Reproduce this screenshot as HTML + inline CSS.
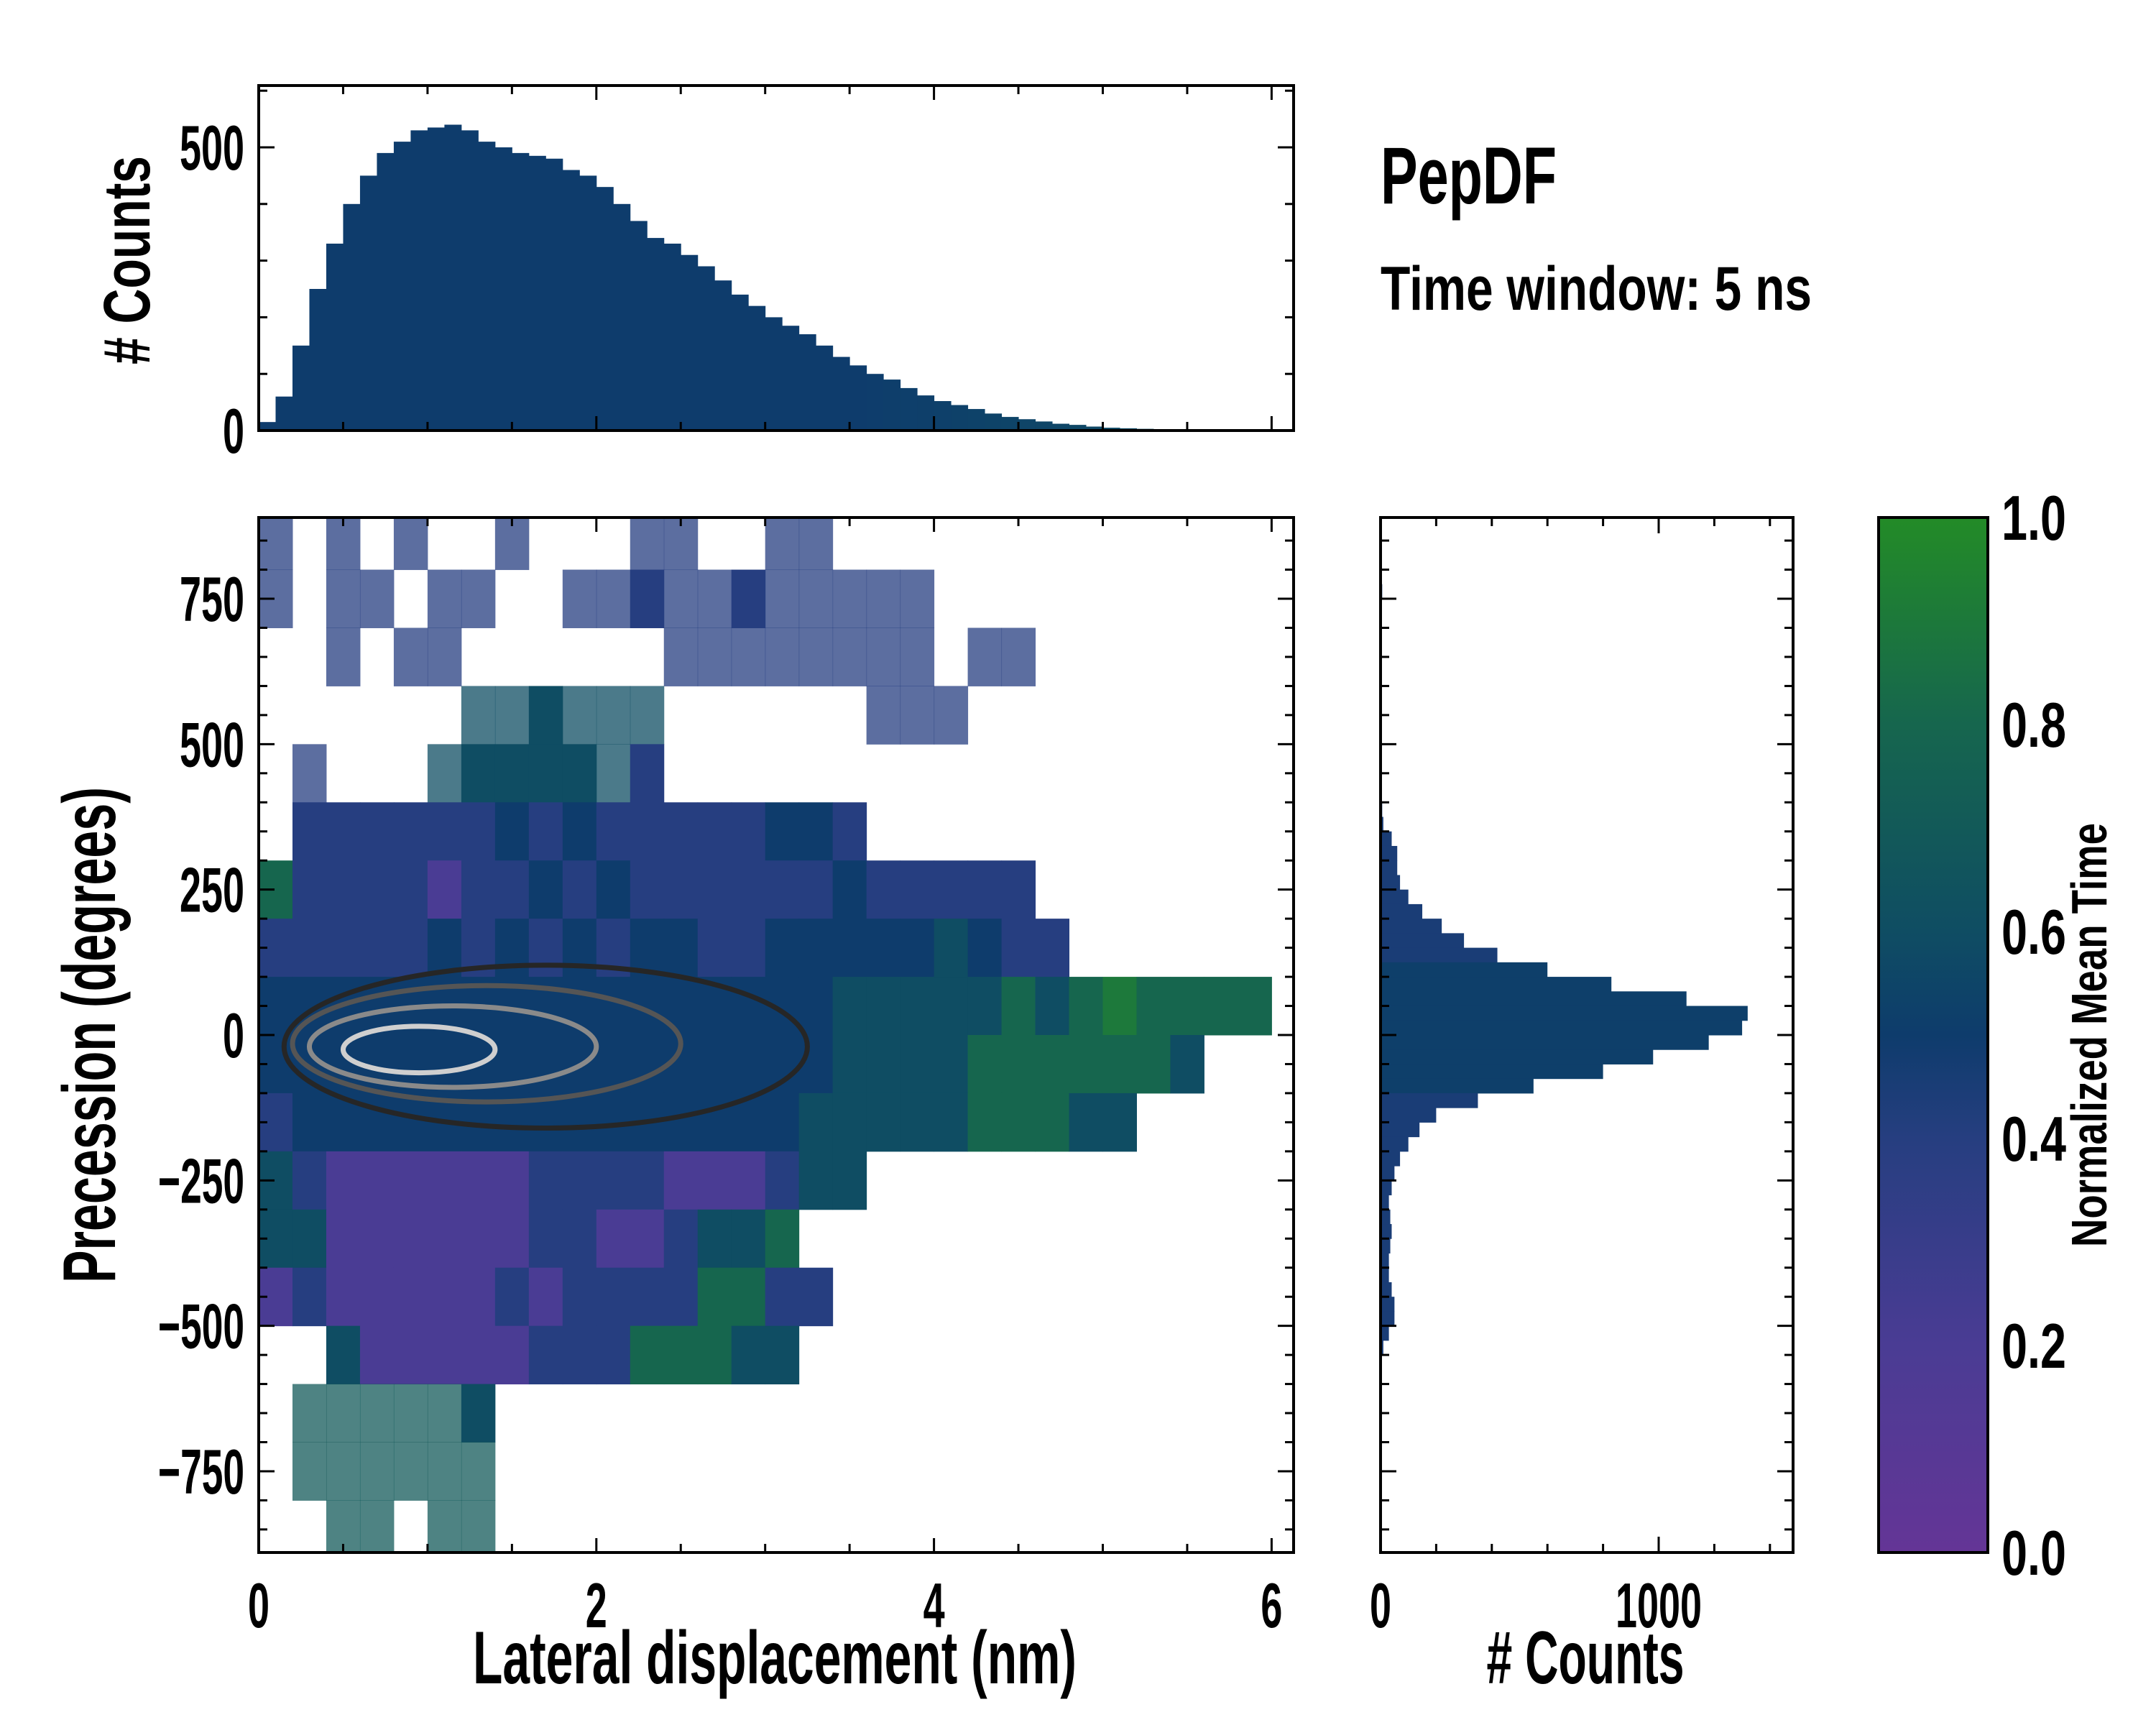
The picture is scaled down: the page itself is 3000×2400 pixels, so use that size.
<!DOCTYPE html>
<html><head><meta charset="utf-8">
<style>
html,body{margin:0;padding:0;background:#fff;}
svg{display:block;font-family:"Liberation Sans Narrow","Liberation Sans",sans-serif;font-weight:bold;}
</style></head>
<body>
<svg id="chart" width="3000" height="2400" viewBox="0 0 3000 2400" xmlns="http://www.w3.org/2000/svg">
<defs>
<linearGradient id="cbg" x1="0" y1="1" x2="0" y2="0">
<stop offset="0" stop-color="#643596"/>
<stop offset="0.2" stop-color="#4a3c94"/>
<stop offset="0.4" stop-color="#263e80"/>
<stop offset="0.5" stop-color="#0e3c6c"/>
<stop offset="0.6" stop-color="#0f4d63"/>
<stop offset="0.8" stop-color="#16664e"/>
<stop offset="1" stop-color="#238b27"/>
</linearGradient>
<clipPath id="mainclip"><rect x="360" y="720" width="1440" height="1440"/></clipPath>
</defs>
<g id="heat" clip-path="url(#mainclip)"></g>
<g id="contours" clip-path="url(#mainclip)"></g>
<g id="tophist"></g>
<g id="righthist"></g>
<g id="axes"></g>
<rect x="2614" y="720" width="152" height="1440" fill="url(#cbg)" stroke="#000" stroke-width="4"/>
<text x="1921" y="283" font-size="112" textLength="245" lengthAdjust="spacingAndGlyphs">PepDF</text>
<text x="1921" y="431" font-size="86" textLength="600" lengthAdjust="spacingAndGlyphs">Time window: 5 ns</text>
<text x="1078" y="2342" font-size="104" text-anchor="middle" textLength="840" lengthAdjust="spacingAndGlyphs">Lateral displacement (nm)</text>
<text transform="translate(124,1440) rotate(-90)" font-size="104" text-anchor="middle" dy="36" textLength="690" lengthAdjust="spacingAndGlyphs">Precession (degrees)</text>
<text transform="translate(176,362) rotate(-90)" font-size="92" text-anchor="middle" dy="32" textLength="290" lengthAdjust="spacingAndGlyphs"># Counts</text>
<text x="2206" y="2342" font-size="104" text-anchor="middle" textLength="275" lengthAdjust="spacingAndGlyphs"># Counts</text>
<text transform="translate(2907,1440) rotate(-90)" font-size="70" text-anchor="middle" dy="24" textLength="590" lengthAdjust="spacingAndGlyphs">Normalized Mean Time</text>
</svg>
<script>
// ---- data ----
const xBinWidth = 0.2;
const yBinStarts = [800,700,600,500,400,300,200,100,0,-100,-200,-300,-400,-500,-600,-700,-800,-900];
const heatRows = [
"a.a.a..a...aa..aa",
"a.aa.aa..aa4aa4aaaaa",
"..a.aa......aaaaaaaa.aa",
"......bb6bbb......aaa",
".a...b6666b4",
".44444454544444554",
"84444244545444444544444",
"444445454545544555556544",
"555555555555555556666686898888",
"5555555555555555566668888886",
"45555555555555556666688866",
"642222224444222466",
"6622222244224668",
"24222224244448844",
"..62222244488866",
".ccccc6",
".cccccc",
"..cc.cc"
];
const sparseMap = {a:4, b:6, c:7};
const histXStarts = [0,0.1,0.2,0.3,0.4,0.5,0.6,0.7,0.8,0.9,1.0,1.1,1.2,1.3,1.4,1.5,1.6,1.7,1.8,1.9,2.0,2.1,2.2,2.3,2.4,2.5,2.6,2.7,2.8,2.9,3.0,3.1,3.2,3.3,3.4,3.5,3.6,3.7,3.8,3.9,4.0,4.1,4.2,4.3,4.4,4.5,4.6,4.7,4.8,4.9,5.0,5.1,5.2,5.3,5.4,5.5,5.6,5.7];
const histXCounts = [15,60,150,250,330,400,450,490,510,530,535,540,530,510,500,490,485,480,460,450,430,400,370,340,330,310,290,265,240,220,200,185,170,150,130,115,100,90,75,62,52,45,38,30,24,20,16,12,10,7,5,4,3,2,2,1,1,0];
const histYStarts = [800,775,750,725,700,675,650,625,600,575,550,525,500,475,450,425,400,375,350,325,300,275,250,225,200,175,150,125,100,75,50,25,0,-25,-50,-75,-100,-125,-150,-175,-200,-225,-250,-275,-300,-325,-350,-375,-400,-425,-450,-475,-500,-525,-550,-575,-600,-625,-650,-675,-700,-725,-750,-775];
const histYCounts = [3,4,6,5,4,3,2,2,2,3,3,2,2,2,3,4,5,6,10,40,60,60,70,100,150,220,300,420,600,830,1100,1320,1300,1180,980,800,550,350,200,140,100,70,50,40,30,35,40,35,30,30,40,50,50,30,10,5,3,2,3,3,5,3,2,1];
const contourCx = [1.7,1.35,1.15,0.95];
const contourCy = [-20,-15,-20,-25];
const contourRx = [1.55,1.15,0.85,0.45];
const contourRy = [140,100,70,40];
const contourColors = ["#262626","#555555","#8a8a8a","#cfcfcf"];
const xTickLabels = [0,2,4,6];
const yTickLabels = [750,500,250,0,-250,-500,-750];
const topHistTicks = [0,500];
const rightHistTicks = [0,1000];
const cbTicks = [0.0,0.2,0.4,0.6,0.8,1.0];

// ---- scales ----
const X0=360,X1=1800,Y0=720,Y1=2160;
const sx = v => 360 + v*234.9;
const sy = v => 1440 - v*0.8093;
const shy = v => 599 - v*0.788;
const shx = v => 1921 + v*0.387;
const scb = v => 2160 - v*1440;
const NS="http://www.w3.org/2000/svg";
function mk(tag, attrs, parent){const e=document.createElementNS(NS,tag);for(const k in attrs)e.setAttribute(k,attrs[k]);parent.appendChild(e);return e;}
const stops=[[0,[100,53,150]],[0.2,[74,60,148]],[0.4,[38,62,128]],[0.5,[14,60,108]],[0.6,[15,77,99]],[0.8,[22,102,78]],[1,[35,139,39]]];
function cmap(t){for(let i=1;i<stops.length;i++){if(t<=stops[i][0]){const a=stops[i-1],b=stops[i];const f=(t-a[0])/(b[0]-a[0]);const c=a[1].map((v,j)=>Math.round(v+(b[1][j]-v)*f));return `rgb(${c[0]},${c[1]},${c[2]})`;}}return "rgb(35,139,39)";}

// heatmap
const heat=document.getElementById('heat');
heatRows.forEach((row,r)=>{
  for(let c=0;c<row.length;c++){
    const ch=row[c]; if(ch==='.') continue;
    const sparse = ch in sparseMap;
    const v=(sparse?sparseMap[ch]:parseInt(ch))/10;
    const x=sx(c*xBinWidth), w=sx((c+1)*xBinWidth)-x;
    const yTop=sy(yBinStarts[r]+100), h=sy(yBinStarts[r])-yTop;
    const e=mk('rect',{x:x,y:yTop,width:w+0.5,height:h+0.5,fill:cmap(v),'fill-opacity':sparse?0.75:1},heat);
    
    
  }
});
// contours
const cg=document.getElementById('contours');
contourCx.forEach((cx,i)=>{
  const e=mk('ellipse',{cx:sx(cx),cy:sy(contourCy[i]),rx:contourRx[i]*234.9,ry:contourRy[i]*0.8093,fill:'none',stroke:contourColors[i],'stroke-width':7},cg);
  
  
});
// top hist
const th=document.getElementById('tophist');
histXStarts.forEach((x0,i)=>{
  const x=sx(x0), w=sx(x0+0.1)-x, yv=shy(histXCounts[i]);
  const e=mk('rect',{x:x,y:yv,width:w+0.5,height:599-yv,fill:cmap(0.5+Math.max(0,x0-3.5)*0.05)},th);
  
  
});
// right hist
const rh=document.getElementById('righthist');
histYStarts.forEach((y0,i)=>{
  const yTop=sy(y0+25), h=sy(y0)-yTop, xv=shx(histYCounts[i]);
  const e=mk('rect',{x:1921,y:yTop,width:xv-1921,height:h+0.5,fill:cmap(Math.abs(y0)<120?0.52:0.45)},rh);
  
  
});
// axes
const ax=document.getElementById('axes');
function frame(x,y,w,h,name){const e=mk('rect',{x:x,y:y,width:w,height:h,fill:'none',stroke:'#000','stroke-width':4},ax);}
frame(360,720,1440,1440,'main-plot-frame');
frame(360,119,1440,480,'top-hist-frame');
frame(1921,720,574,1440,'right-hist-frame');
function line(x1,y1,x2,y2){mk('line',{x1:x1,y1:y1,x2:x2,y2:y2,stroke:'#000','stroke-width':3},ax);}
function label(x,y,t,anchor,name){const e=mk('text',{x:x,y:y,'font-size':88,'text-anchor':anchor,textLength:t.length*30,lengthAdjust:'spacingAndGlyphs'},ax);e.textContent=t;}
// x ticks (main + top hist)
for(let v=0;v<=6.1;v+=0.5){const X=sx(v);const major=Math.abs(v-Math.round(v/2)*2)<1e-6;const L=major?20:12;
 line(X,Y1,X,Y1-L);line(X,Y0,X,Y0+L);line(X,599,X,599-L);line(X,119,X,119+L);}
xTickLabels.forEach(v=>label(sx(v),2264,String(v),'middle','x-tick-label'));
// y ticks main + right hist
for(let v=-850;v<=850;v+=50){const Y=sy(v);const major=v%250===0;const L=major?22:12;
 line(X0,Y,X0+L,Y);line(X1,Y,X1-L,Y);line(1921,Y,1921+L,Y);line(2495,Y,2495-L,Y);}
yTickLabels.forEach(v=>label(340,sy(v)+31,v<0?'\u2212'+Math.abs(v):String(v),'end','y-tick-label'));
// top hist y ticks
for(let v=0;v<=600;v+=100){const Y=shy(v);const L=v%500===0?22:12;line(360,Y,360+L,Y);line(1800,Y,1800-L,Y);}
topHistTicks.forEach(v=>label(340,shy(v)+31,String(v),'end','top-hist-tick-label'));
// right hist x ticks
for(let v=0;v<=1400;v+=200){const X=shx(v);const L=v%1000===0?22:12;line(X,2160,X,2160-L);line(X,720,X,720+L);}
rightHistTicks.forEach(v=>label(shx(v),2264,String(v),'middle','right-hist-tick-label'));
// colorbar ticks
for(let v=0;v<=1.0001;v+=0.05){const Y=scb(v);const major=Math.round(v*100)%20===0;const L=major?20:10;line(2766,Y,2766-L,Y);}
cbTicks.forEach(v=>label(2785,scb(v)+31,v.toFixed(1),'start','colorbar-tick-label'));
</script>
</body></html>
